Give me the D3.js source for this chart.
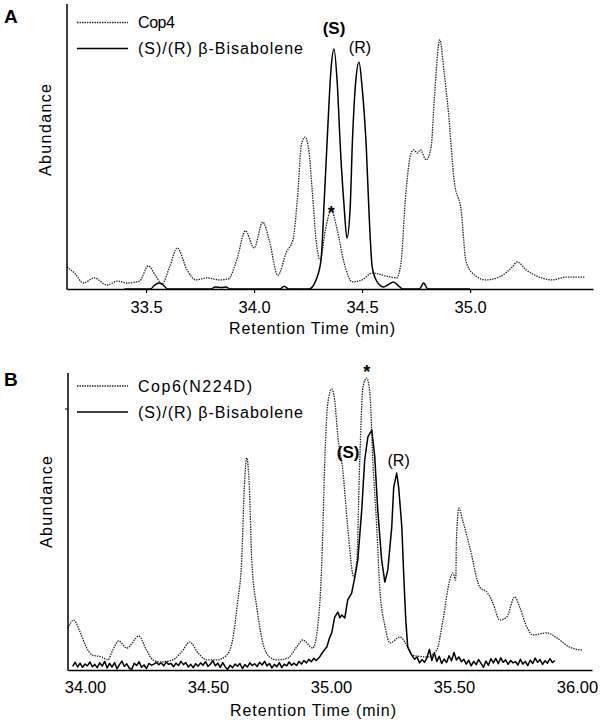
<!DOCTYPE html>
<html>
<head>
<meta charset="utf-8">
<script src="https://cdnjs.cloudflare.com/ajax/libs/d3/7.8.5/d3.min.js"></script>
<style>
  html, body { margin: 0; padding: 0; background: #fff; }
</style>
</head>
<body>
<script>
(function( w ) {

"use strict";

/* ---- data: [retention time (min), abundance %] ---- */

var ticksA = [ 33.5, 34.0, 34.5, 35.0 ],
    ticksB = [ 34.0, 34.5, 35.0, 35.5, 36.0 ],
    legendA = [ "Cop4", "(S)/(R) \u03b2-Bisabolene" ],
    legendB = [ "Cop6(N224D)", "(S)/(R) \u03b2-Bisabolene" ],

    cop4 = [
        [33.134,7.7],[33.17,5.5],[33.21,2.1],[33.26,3.9],[33.32,1.4],[33.37,2.8],[33.41,2.1],
        [33.47,2.8],[33.51,8.1],[33.545,4.5],[33.574,1.8],[33.61,8],[33.644,14.4],[33.69,6.7],
        [33.73,3.2],[33.78,3.9],[33.84,3.2],[33.88,3.5],[33.92,10.2],[33.96,20.4],[34.0,14.4],
        [34.04,23.5],[34.07,17.2],[34.11,4.8],[34.15,13],[34.18,17.2],[34.20,31],[34.22,51],
        [34.236,53.3],[34.255,47.7],[34.27,33.7],[34.287,17.2],[34.306,10.2],[34.33,20.7],
        [34.357,27.7],[34.385,20.7],[34.417,9.1],[34.455,2.5],[34.50,3.2],[34.547,5.6],
        [34.61,4.6],[34.66,3.9],[34.68,9.1],[34.70,31],[34.727,47.7],[34.74,48.8],[34.755,47.7],
        [34.77,48.8],[34.797,45.3],[34.82,50],[34.834,66.3],[34.86,87.4],[34.88,75.8],
        [34.90,61.8],[34.926,38.2],[34.96,26.7],[34.98,10.2],[35.01,5.6],[35.074,3.2],
        [35.135,4.2],[35.195,7.7],[35.218,9.5],[35.26,6.7],[35.32,4.2],[35.38,3.2],
        [35.445,4.2],[35.53,4.2]
    ],

    bisaboleneA = [
        [33.40,0],[33.52,0],[33.54,1.4],[33.56,2.1],[33.58,1.4],[33.60,0],[33.80,0],[33.82,0.7],
        [33.85,0.5],[33.87,0.7],[33.89,0],[34.12,0],[34.14,1],[34.16,0],[34.255,0],[34.287,3.2],
        [34.31,10.2],[34.325,31.2],[34.34,54.7],[34.357,77.9],[34.37,84.2],[34.385,72.3],
        [34.40,48.8],[34.417,28.8],[34.43,17.9],[34.445,28.8],[34.455,51.2],[34.47,72.3],
        [34.486,79.6],[34.50,70.9],[34.52,48.8],[34.533,25.3],[34.547,7.7],[34.57,2.5],
        [34.60,0.7],[34.62,1.5],[34.645,2.5],[34.67,1],[34.69,0],[34.765,0],[34.785,2.1],
        [34.805,0],[35.0,0]
    ],

    cop6 = [
        [33.931,14.1],[33.954,16.8],[33.98,12.8],[34.007,7.4],[34.03,5],[34.068,4.4],[34.093,3.4],
        [34.113,6.7],[34.137,9.8],[34.17,7.4],[34.219,11.4],[34.25,6.7],[34.276,3.4],[34.304,2.7],
        [34.357,3.4],[34.393,6.1],[34.426,9.4],[34.46,5.7],[34.495,3.4],[34.536,3.4],[34.576,5],
        [34.60,10.1],[34.62,22.6],[34.637,37],[34.648,62],[34.658,71.4],[34.668,62],[34.678,37],
        [34.70,20.2],[34.723,9.1],[34.75,4.4],[34.78,3.4],[34.824,4],[34.86,7.7],[34.885,10.1],
        [34.926,7.4],[34.946,14.5],[34.963,37],[34.975,70.7],[34.987,89.9],[35.003,94.6],
        [35.015,90.9],[35.028,78.5],[35.048,67.3],[35.068,48.1],[35.093,31.3],[35.105,37],
        [35.117,70.7],[35.13,95.3],[35.145,98.3],[35.158,93.3],[35.17,70.7],[35.186,48.1],
        [35.198,27.9],[35.22,14.5],[35.24,9.1],[35.28,11.1],[35.312,7.7],[35.33,5],[35.39,4.4],
        [35.43,6.7],[35.455,16.8],[35.483,30.3],[35.495,32.7],[35.507,30.3],[35.51,43.8],
        [35.52,54.5],[35.535,50.5],[35.564,41.4],[35.605,27.9],[35.637,25.9],[35.658,22.6],
        [35.686,16.8],[35.714,17.8],[35.747,24.6],[35.767,21.2],[35.796,14.5],[35.82,11.8],
        [35.877,12.5],[35.918,10.8],[35.97,7.7],[36.023,6.7]
    ],

    bisaboleneB = [
        [33.95,1.2],[33.96,2.6],[33.97,1.0],[33.98,2.3],[33.99,0.9],[34.00,2.0],[34.01,1.4],
        [34.02,2.7],[34.03,1.1],[34.04,1.9],[34.05,0.8],[34.06,2.4],[34.07,1.3],[34.08,2.9],
        [34.09,0.7],[34.10,2.2],[34.11,1.0],[34.12,2.5],[34.13,0.4],[34.14,1.8],[34.15,3.0],
        [34.16,1.2],[34.17,2.1],[34.18,0.6],[34.19,0.2],[34.20,2.3],[34.21,1.5],[34.22,2.8],
        [34.23,0.9],[34.24,1.7],[34.25,0.5],[34.26,2.2],[34.27,1.6],[34.28,2.0],[34.29,2.6],
        [34.30,1.8],[34.31,2.4],[34.32,1.4],[34.33,2.7],[34.34,1.9],[34.35,2.2],[34.36,1.1],
        [34.37,2.3],[34.38,1.5],[34.39,2.9],[34.40,1.8],[34.41,2.5],[34.42,1.0],[34.43,1.9],
        [34.44,0.8],[34.45,2.1],[34.46,1.3],[34.47,2.4],[34.48,1.6],[34.49,2.8],[34.50,1.2],
        [34.51,2.0],[34.52,3.1],[34.53,1.4],[34.54,2.3],[34.55,0.9],[34.56,2.5],[34.57,1.1],
        [34.58,0.2],[34.59,1.6],[34.60,0.8],[34.61,2.0],[34.62,1.3],[34.63,2.2],[34.64,0.5],
        [34.65,1.8],[34.66,1.0],[34.67,2.4],[34.68,1.5],[34.69,2.1],[34.70,1.2],[34.71,2.6],
        [34.72,1.7],[34.73,2.9],[34.74,1.4],[34.75,2.2],[34.76,0.7],[34.77,1.9],[34.78,1.1],
        [34.79,2.5],[34.80,0.8],[34.81,2.0],[34.82,1.4],[34.83,2.7],[34.84,1.6],[34.85,2.3],
        [34.86,1.5],[34.87,2.9],[34.88,2.0],[34.89,3.2],[34.90,2.4],[34.91,3.6],[34.92,2.8],
        [34.93,3.9],[34.94,3.2],[34.954,4.4],[34.965,5.8],[34.975,7.0],[34.983,7.7],[34.993,10.5],
        [35.003,12.5],[35.015,17.8],[35.028,19.5],[35.036,17.6],[35.044,18.5],[35.056,17.5],
        [35.068,23.6],[35.084,25.9],[35.097,31.3],[35.109,37],[35.125,53.9],[35.137,70.7],
        [35.15,78.5],[35.166,80.8],[35.178,71.7],[35.19,53.9],[35.206,37],[35.219,29.6],
        [35.231,33.7],[35.247,48.1],[35.255,61.6],[35.267,66.3],[35.275,61.6],[35.288,48.1],
        [35.296,31.3],[35.304,16.8],[35.312,7.7],[35.328,5],[35.34,3.6],[35.35,4.4],
        [35.36,2.4],[35.37,3.5],[35.38,2.6],[35.39,4.1],[35.40,6.9],[35.41,3.2],[35.42,5.8],
        [35.43,2.9],[35.44,4.6],[35.45,2.2],[35.46,3.7],[35.47,2.5],[35.48,4.8],[35.49,3.1],
        [35.50,5.9],[35.51,3.4],[35.52,4.4],[35.53,2.8],[35.54,3.6],[35.55,2.0],[35.56,3.3],
        [35.57,1.4],[35.58,2.9],[35.59,1.8],[35.60,3.5],[35.61,2.2],[35.62,0.9],[35.63,3.0],
        [35.64,1.6],[35.65,3.8],[35.66,2.4],[35.67,3.9],[35.68,2.1],[35.69,4.1],[35.70,2.6],
        [35.71,3.4],[35.72,1.9],[35.73,3.2],[35.74,2.4],[35.75,2.8],[35.76,1.7],[35.77,3.6],
        [35.78,2.0],[35.79,2.9],[35.80,1.5],[35.81,3.3],[35.82,2.2],[35.83,4.0],[35.84,2.6],
        [35.85,3.5],[35.86,1.9],[35.87,3.1],[35.88,2.3],[35.89,3.8],[35.90,2.5],[35.91,3.2]
    ],

    /* private: */
    _font = "'Liberation Sans', Arial, Helvetica, sans-serif",
    _d,            // default styles
    _set,          // apply a hash of attributes (v7 has no attr maps)
    _drawPanel;    // panel renderer

_d = {
    dotted : { "fill" : "none", "stroke" : "#1e1e1e", "stroke-width" : 1.3, "stroke-dasharray" : "1.4,1.1" },
    solid  : { "fill" : "none", "stroke" : "#000", "stroke-width" : 1.5, "stroke-linejoin" : "round" },
    axis   : { "fill" : "none", "stroke" : "#000", "stroke-width" : 1.5 }
};

_set = function( sel, attrs ) {
    Object.keys( attrs ).forEach(function( k ){ sel.attr( k, attrs[k] ); });
    return sel;
};

/* _drawPanel
 * Draws one chromatogram panel: two traces, axes, legend, peak labels
 * @param {{object}} svg The root selection
 * @param {{object}} p   Panel layout and data
 */
_drawPanel = function( svg, p ) {
    var x = d3.scaleLinear().domain( p.domain ).range([ p.left, p.right ]),
        y = d3.scaleLinear().domain([ 0, 100 ]).range([ p.bottom, p.top ]),
        g = svg.append("g"),
        line = function( curve ) {
            return d3.line()
                .x(function( d ){ return x( d[0] ); })
                .y(function( d ){ return y( d[1] ); })
                .curve( curve );
        },
        axis, lg;

    /* traces */
    _set( g.append("path").datum( p.dotted ).attr("d", line( d3.curveMonotoneX )), _d.dotted );
    _set( g.append("path").datum( p.solid ).attr("d", line( p.solidCurve )), _d.solid );

    /* x axis */
    axis = g.append("g")
        .attr("transform", "translate(0," + p.bottom + ")")
        .call( d3.axisBottom( x )
            .tickValues( p.ticks )
            .tickFormat( d3.format( p.fmt ) )
            .tickSize( p.tick )
            .tickSizeOuter( 0 )
            .tickPadding( p.pad ) )
        .attr("font-family", _font)
        .attr("font-size", 16.5);
    _set( axis.select(".domain"), _d.axis );
    axis.selectAll(".tick line").attr("stroke-width", 1.2);

    /* y axis, no ticks */
    _set( g.append("line")
        .attr("x1", p.left).attr("x2", p.left)
        .attr("y1", p.top).attr("y2", p.bottom + 0.75), _d.axis );
    if( p.ytick ){
        g.append("line")
            .attr("x1", p.left - 3).attr("x2", p.left)
            .attr("y1", p.ytick).attr("y2", p.ytick)
            .attr("stroke", "#000").attr("stroke-width", 1);
    }

    /* axis titles */
    g.append("text")
        .attr("x", p.titleX).attr("y", p.bottom + p.titleDy)
        .attr("textLength", 166).attr("lengthAdjust", "spacing")
        .text("Retention Time (min)");
    g.append("text")
        .attr("transform", "translate(" + p.ylabX + "," + p.ylabY + ") rotate(-90)")
        .attr("text-anchor", "middle")
        .attr("textLength", 92).attr("lengthAdjust", "spacing")
        .text("Abundance");

    /* panel letter */
    g.append("text")
        .attr("x", 4).attr("y", p.letterY)
        .attr("font-weight", "bold").attr("font-size", 19)
        .text( p.letter );

    /* legend */
    lg = g.append("g").attr("transform", "translate(0," + p.legendY + ")");
    _set( lg.append("line").attr("x1", 77).attr("x2", 128).attr("y1", 0).attr("y2", 0), _d.dotted );
    _set( lg.append("line").attr("x1", 77).attr("x2", 128).attr("y1", 26).attr("y2", 26), _d.solid );
    lg.append("text").attr("x", 138).attr("y", 5.5)
        .attr("textLength", p.legendW[0]).attr("lengthAdjust", "spacing")
        .text( p.legend[0] );
    lg.append("text").attr("x", 138).attr("y", 31.5)
        .attr("textLength", p.legendW[1]).attr("lengthAdjust", "spacing")
        .text( p.legend[1] );

    /* peak labels, anchored to the traces */
    p.marks.forEach(function( m ){
        g.append("text")
            .attr("x", x( m.t )).attr("y", y( m.a ) + m.dy)
            .attr("text-anchor", "middle")
            .attr("font-weight", m.bold ? "bold" : "normal")
            .attr("font-size", m.size)
            .text( m.text );
    });
};

var svg = d3.select( document.body ).append("svg")
    .attr("width", 603).attr("height", 724)
    .attr("font-family", _font)
    .attr("font-size", 16);

_drawPanel( svg, {
    letter : "A", letterY : 23,
    domain : [ 33.134, 35.569 ], left : 67, right : 593, top : 4, bottom : 289,
    ticks : ticksA, fmt : ".1f", tick : 4, pad : 8,
    titleX : 229, titleDy : 45, ylabX : 51, ylabY : 130,
    dotted : cop4, solid : bisaboleneA, solidCurve : d3.curveMonotoneX,
    legend : legendA, legendW : [ 37, 165 ], legendY : 22.5,
    marks : [
        { text : "(S)", t : 34.37, a : 84.2, dy : -15, bold : true, size : 17 },
        { text : "(R)", t : 34.49, a : 79.6, dy : -9, bold : false, size : 16 },
        { text : "*", t : 34.357, a : 27.7, dy : 9, bold : true, size : 18 }
    ]
});

_drawPanel( svg, {
    letter : "B", letterY : 386,
    domain : [ 33.931, 36.061 ], left : 68, right : 592, top : 373, bottom : 670, ytick : 409,
    ticks : ticksB, fmt : ".2f", tick : 0, pad : 11,
    titleX : 230, titleDy : 46, ylabX : 52, ylabY : 502,
    dotted : cop6, solid : bisaboleneB, solidCurve : d3.curveLinear,
    legend : legendB, legendW : [ 114, 165 ], legendY : 386,
    marks : [
        { text : "*", t : 35.145, a : 98.3, dy : 0, bold : true, size : 18 },
        { text : "(S)", t : 35.07, a : 80.8, dy : 28, bold : true, size : 17 },
        { text : "(R)", t : 35.275, a : 66.3, dy : -7, bold : false, size : 16 }
    ]
});

})( window );
</script>
</body>
</html>
